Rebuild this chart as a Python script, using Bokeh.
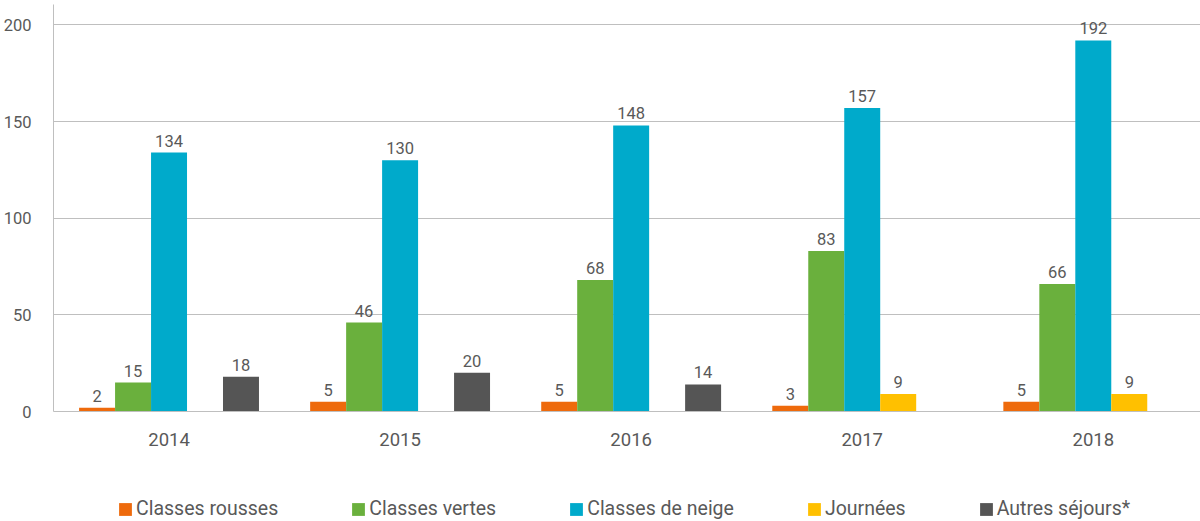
from bokeh.plotting import figure
from bokeh.models import ColumnDataSource, Range1d, FixedTicker, Legend, LegendItem
from bokeh.layouts import column
from bokeh.embed import file_html
from bokeh.resources import INLINE
from bokeh.core.properties import value

# ---- data ----
years = ["2014", "2015", "2016", "2017", "2018"]
series = ["Classes rousses", "Classes vertes", "Classes de neige", "Journées", "Autres séjours*"]
classes_rousses = [2, 5, 5, 3, 5]
classes_vertes = [15, 46, 68, 83, 66]
classes_de_neige = [134, 130, 148, 157, 192]
journees = [None, None, None, 9, 9]
autres_sejours = [18, 20, 14, None, None]
y_ticks = [0, 50, 100, 150, 200]

data = [classes_rousses, classes_vertes, classes_de_neige, journees, autres_sejours]
colors = ["#EE6A0C", "#6AB03D", "#00AACB", "#FFC000", "#555555"]

TEXT = "#595959"
GRID = "#BFBFBF"
FONT = "Roboto"

p = figure(width=1200, height=470, output_backend="svg", toolbar_location=None,
           x_range=Range1d(-0.5, 4.464), y_range=Range1d(0, 210.6),
           min_border_left=52, min_border_right=0, min_border_top=4,
           min_border_bottom=59)
p.outline_line_color = None
p.background_fill_color = "white"

bar_w = 0.1557
for k, (name, vals) in enumerate(zip(series, data)):
    off = (k - 2) * bar_w
    xs = [i + off for i, v in enumerate(vals) if v is not None]
    ys = [v for v in vals if v is not None]
    src = ColumnDataSource(dict(x=xs, top=ys, label=[str(v) for v in ys]))
    p.vbar(x="x", top="top", bottom=0, width=bar_w, source=src,
           fill_color=colors[k], line_color=None)
    p.text(x="x", y="top", text="label", source=src, text_align="center",
           text_baseline="bottom", y_offset=-6, text_font=value(FONT),
           text_font_size="16.5px", text_color=TEXT)

# x axis
p.xaxis.ticker = FixedTicker(ticks=list(range(len(years))))
p.xaxis.major_label_overrides = {i: y for i, y in enumerate(years)}
p.xaxis.axis_line_color = GRID
p.xaxis.major_tick_line_color = None
p.xaxis.minor_tick_line_color = None
p.xaxis.major_label_text_font = FONT
p.xaxis.major_label_text_font_size = "18.5px"
p.xaxis.major_label_text_color = TEXT
p.xaxis.major_label_standoff = 15

# y axis
p.yaxis.ticker = FixedTicker(ticks=y_ticks)
p.yaxis.axis_line_color = GRID
p.yaxis.major_tick_line_color = None
p.yaxis.minor_tick_line_color = None
p.yaxis.major_label_text_font = FONT
p.yaxis.major_label_text_font_size = "16.5px"
p.yaxis.major_label_text_color = TEXT
p.yaxis.major_label_standoff = 16

p.xgrid.grid_line_color = None
p.ygrid.ticker = FixedTicker(ticks=y_ticks)
p.ygrid.grid_line_color = GRID

# ---- legend strip below the chart ----
lg = figure(width=1200, height=51, output_backend="svg", toolbar_location=None,
            x_range=Range1d(0, 1), y_range=Range1d(0, 1),
            x_axis_location=None, y_axis_location=None,
            min_border_left=0, min_border_right=0, min_border_top=0,
            min_border_bottom=0)
lg.outline_line_color = None
lg.grid.visible = False
items = []
for k, name in enumerate(series):
    # zero-height swatch renderer, used only to carry the legend colour
    r = lg.vbar(x=[0], top=[0], bottom=[0], width=0.01,
                fill_color=colors[k], line_color=None)
    items.append(LegendItem(label=name, renderers=[r]))

legend = Legend(items=items, location=(64, 1), orientation="horizontal",
                padding=0, margin=0, spacing=72, label_standoff=3,
                glyph_width=16, glyph_height=16, label_height=20,
                border_line_color=None, background_fill_alpha=0,
                label_text_font=FONT, label_text_font_size="19.5px",
                label_text_color=TEXT)
lg.add_layout(legend)

open("out.html", "w").write(file_html(column(p, lg, spacing=0), INLINE))
